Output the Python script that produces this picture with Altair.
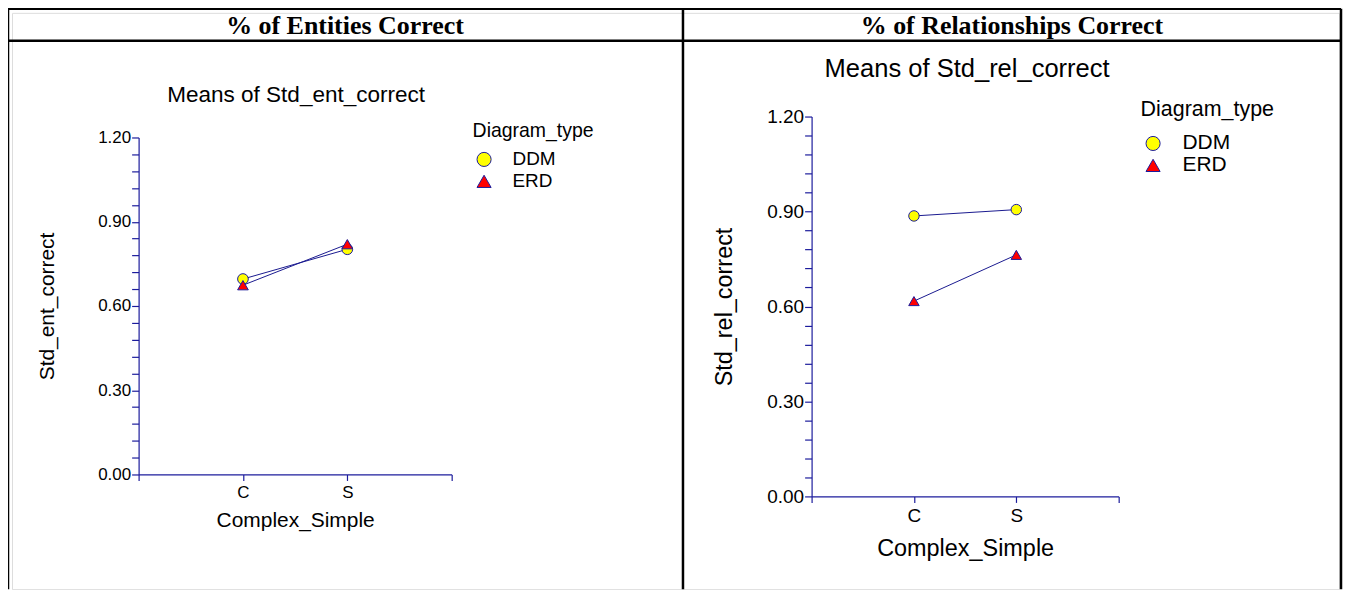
import altair as alt
import pandas as pd

# ---------------- data ----------------
categories = ["C", "S"]
groups = ["DDM", "ERD"]
ent_ddm = [0.696, 0.802]
ent_erd = [0.674, 0.820]
rel_ddm = [0.886, 0.906]
rel_erd = [0.617, 0.763]
y_ticks = [0.00, 0.06, 0.12, 0.18, 0.24, 0.30, 0.36, 0.42, 0.48, 0.54, 0.60,
           0.66, 0.72, 0.78, 0.84, 0.90, 0.96, 1.02, 1.08, 1.14, 1.20]
x_slots = ["lo", "C", "S", "hi"]
headers = ["% of Entities Correct", "% of Relationships Correct"]
plot_titles = ["Means of Std_ent_correct", "Means of Std_rel_correct"]
y_titles = ["Std_ent_correct", "Std_rel_correct"]
x_title = "Complex_Simple"
legend_title = "Diagram_type"
fills = ["#ffff00", "#ff0000"]
shapes = ["circle", "triangle-up"]

NAVY = "#1c1c9c"
LINE = "#1a1a90"
SANS = "Liberation Sans"
SERIF = "Liberation Serif"

W, H = 1331, 578


def table(ddm, erd):
    rows = []
    for g, vals in zip(groups, [ddm, erd]):
        for c, v in zip(categories, vals):
            rows.append({"Diagram_type": g, "Complex_Simple": c, "value": v})
    return pd.DataFrame(rows)


def panel(df, ytitle, x0, x1, ytop, ybot, lab_fs, ttl_fs, xlab_pad, xttl_pad,
          yttl_pad, psize, lg):
    x = alt.X(
        "Complex_Simple:N",
        scale=alt.Scale(type="point", domain=x_slots, range=[x0, x1], padding=0),
        axis=alt.Axis(
            orient="bottom", offset=ybot - H, title=x_title,
            labelExpr="datum.value == 'C' || datum.value == 'S' ? datum.value : ''",
            labelAngle=0, tickSize=6, labelPadding=xlab_pad, titlePadding=xttl_pad,
            labelFontSize=lab_fs, titleFontSize=ttl_fs, labelFont=SANS, titleFont=SANS,
            titleFontWeight="normal", labelColor="black", titleColor="black",
            domainColor=NAVY, tickColor=NAVY, domainWidth=1.2, tickWidth=1.2,
            grid=False, labelOverlap=False,
        ),
    )
    y = alt.Y(
        "value:Q",
        scale=alt.Scale(domain=[0, 1.2], range=[ybot, ytop], nice=False, zero=False),
        axis=alt.Axis(
            orient="left", offset=-x0, title=ytitle, values=y_ticks,
            labelExpr="(round(datum.value * 100) % 30 == 0) ? format(datum.value, '.2f') : ''",
            tickSize=7, labelPadding=1, titlePadding=yttl_pad,
            labelFontSize=lab_fs, titleFontSize=ttl_fs, labelFont=SANS, titleFont=SANS,
            titleFontWeight="normal", labelColor="black", titleColor="black",
            domainColor=NAVY, tickColor=NAVY, domainWidth=1.2, tickWidth=1.2,
            grid=False, labelOverlap=False,
        ),
    )
    legend = alt.Legend(
        orient="none", legendX=lg["x"], legendY=lg["y"], title=legend_title,
        titleFont=SANS, titleFontSize=lg["tfs"], titleFontWeight="normal",
        titleColor="black", titlePadding=lg["tpad"],
        labelFont=SANS, labelFontSize=lg["lfs"], labelColor="black",
        labelOffset=lg["loff"], rowPadding=lg["rpad"], symbolOffset=2,
        symbolSize=200, symbolStrokeColor=NAVY, symbolStrokeWidth=1, padding=0,
    )
    lines = alt.Chart(df).mark_line(color=LINE, strokeWidth=1).encode(
        x=x, y=y, detail="Diagram_type:N"
    )
    pts = alt.Chart(df).mark_point(
        filled=True, strokeWidth=1, opacity=1, size=psize
    ).encode(
        x=x, y=y,
        fill=alt.Fill("Diagram_type:N", scale=alt.Scale(domain=groups, range=fills), legend=legend),
        shape=alt.Shape("Diagram_type:N", scale=alt.Scale(domain=groups, range=shapes), legend=legend),
        stroke=alt.Stroke("Diagram_type:N", scale=alt.Scale(domain=groups, range=[NAVY, NAVY]), legend=legend),
    )
    return alt.layer(lines, pts)


def text_mark(text, x, y, size, font, weight="normal"):
    return alt.Chart(alt.Data(values=[{"t": text}])).mark_text(
        x=x, y=y, fontSize=size, font=font, fontWeight=weight,
        align="center", baseline="middle", color="black",
    ).encode(text="t:N")


def rule(x, y, x2, y2):
    return alt.Chart(alt.Data(values=[{"k": 0}])).mark_rule(
        color="black", strokeWidth=2.5
    ).encode(x=alt.value(x), y=alt.value(y), x2=alt.value(x2), y2=alt.value(y2))


left = panel(
    table(ent_ddm, ent_erd), y_titles[0],
    x0=127, x1=441, ytop=125, ybot=463,
    lab_fs=17, ttl_fs=21, xlab_pad=4, xttl_pad=9, yttl_pad=40, psize=115,
    lg={"x": 462, "y": 110, "tfs": 19.5, "lfs": 19, "tpad": 8, "loff": 19, "rpad": 2},
)
right = panel(
    table(rel_ddm, rel_erd), y_titles[1],
    x0=802, x1=1110, ytop=104, ybot=485,
    lab_fs=19, ttl_fs=23.5, xlab_pad=4, xttl_pad=11, yttl_pad=30, psize=110,
    lg={"x": 1132, "y": 86, "tfs": 21.5, "lfs": 21, "tpad": 13, "loff": 19, "rpad": 0},
)

deco = [
    rule(-4, -4, 1333, -4),
    rule(-4, 28, 1333, 28),
    rule(-4, -4, -4, H),
    rule(673, -4, 673, H),
    rule(1333, -4, 1333, H),
    text_mark(headers[0], 334, 13, 26, SERIF, "bold"),
    text_mark(headers[1], 1003, 13, 26, SERIF, "bold"),
    text_mark(plot_titles[0], 285, 82, 22.6, SANS),
    text_mark(plot_titles[1], 958, 56, 25.6, SANS),
]

chart = alt.layer(left, right, *deco).resolve_scale(
    x="independent", y="independent", fill="independent", shape="independent",
    stroke="independent",
).resolve_axis(
    x="independent", y="independent"
).resolve_legend(
    fill="independent", shape="independent", stroke="independent"
).properties(
    width=W, height=H,
    autosize=alt.AutoSizeParams(type="none"),
    padding={"left": 4, "top": 4, "right": 4, "bottom": 0},
).configure_view(stroke=None).configure(background="white")

chart.save("out.html", embed_options={"renderer": "svg", "actions": False})
